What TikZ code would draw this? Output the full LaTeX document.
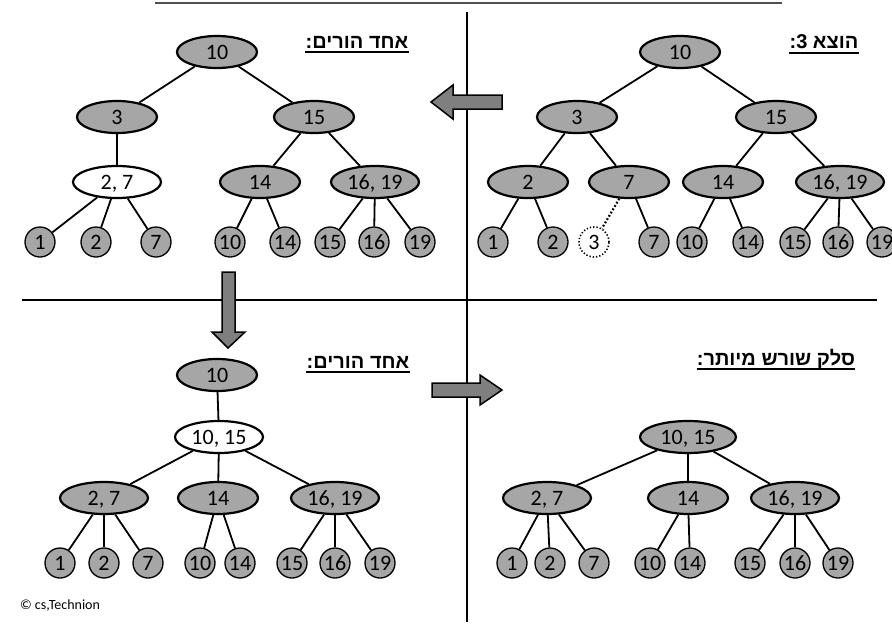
\documentclass[tikz,border=0pt]{standalone}
\usepackage{fontspec}
\setmainfont{Carlito}
\newfontfamily\hebfont[Script=Hebrew]{Liberation Sans Bold}
\TeXXeTstate=1
\usetikzlibrary{shapes.geometric}
\definecolor{nodegray}{HTML}{A6A6A6}
\definecolor{arrowgray}{HTML}{7F7F7F}
\definecolor{topline}{HTML}{505050}
\tikzset{
  el/.style={ellipse, draw, line width=2.2pt, fill=nodegray, minimum width=80pt, minimum height=32pt, inner sep=0pt, text height=14pt, text depth=0pt, font=\fontsize{22}{24}\selectfont},
  elw/.style={el, minimum width=88pt},
  elwhite/.style={elw, fill=white},
  leaf/.style={circle, draw, line width=1.3pt, fill=nodegray, minimum size=30pt, inner sep=0pt, text height=14pt, text depth=0pt, font=\fontsize{22}{24}\selectfont},
  dleaf/.style={leaf, fill=white, dotted, line width=1.6pt},
  edge/.style={line width=1.8pt},
  title/.style={inner sep=0pt, font=\hebfont\fontsize{20}{22}\selectfont},
  uline/.style={line width=2.2pt},
  bigarrow/.style={draw, line width=1.5pt, fill=arrowgray, line join=miter},
  sep/.style={line width=2.6pt}
}
\begin{document}
\begin{tikzpicture}[x=1pt,y=-1pt]
\useasboundingbox (0,0) rectangle (892,625);
% separators
\draw[topline, line width=2pt] (155,3) -- (782,3);
\draw[sep] (467,12) -- (467,622);
\draw[sep] (22,300) -- (877,300);

% ---------- top right ----------
\node[el] (a0) at (680,52) {10};
\node[el] (a1) at (577,117) {3};
\node[el] (a2) at (776,117) {15};
\node[el] (a3) at (528,182) {2};
\node[el] (a4) at (629,182) {7};
\node[el] (a5) at (723,182) {14};
\node[elw] (a6) at (840,182) {16, 19};
\node[leaf] (al1) at (493,242) {1};
\node[leaf] (al2) at (553,242) {2};
\node[dleaf] (al3) at (594,242) {3};
\node[leaf] (al4) at (654,242) {7};
\node[leaf] (al5) at (692,242) {10};
\node[leaf] (al6) at (748,242) {14};
\node[leaf] (al7) at (795,242) {15};
\node[leaf] (al8) at (838,242) {16};
\node[leaf] (al9) at (882,242) {19};
\draw[edge] (a0) -- (a1); \draw[edge] (a0) -- (a2);
\draw[edge] (a1) -- (a3); \draw[edge] (a1) -- (a4);
\draw[edge] (a2) -- (a5); \draw[edge] (a2) -- (a6);
\draw[edge] (a3) -- (al1); \draw[edge] (a3) -- (al2);
\draw[edge, dotted, line width=2.2pt] (a4) -- (al3); \draw[edge] (a4) -- (al4);
\draw[edge] (a5) -- (al5); \draw[edge] (a5) -- (al6);
\draw[edge] (a6) -- (al7); \draw[edge] (a6) -- (al8); \draw[edge] (a6) -- (al9);
\node[title] (ta) at (824,42) {\beginR הוצא 3:\endR};
\draw[uline] ([yshift=-4pt]ta.base west) -- ([yshift=-4pt]ta.base east);

% ---------- top left ----------
\node[el] (b0) at (217,52) {10};
\node[el] (b1) at (117,117) {3};
\node[el] (b2) at (314,117) {15};
\node[elwhite] (b3) at (117,182) {2, 7};
\node[el] (b4) at (260,182) {14};
\node[elw] (b5) at (375,182) {16, 19};
\node[leaf] (bl1) at (40,242) {1};
\node[leaf] (bl2) at (96,242) {2};
\node[leaf] (bl3) at (156,242) {7};
\node[leaf] (bl4) at (230,242) {10};
\node[leaf] (bl5) at (285,242) {14};
\node[leaf] (bl6) at (330,242) {15};
\node[leaf] (bl7) at (374,242) {16};
\node[leaf] (bl8) at (420,242) {19};
\draw[edge] (b0) -- (b1); \draw[edge] (b0) -- (b2);
\draw[edge] (b1) -- (b3);
\draw[edge] (b2) -- (b4); \draw[edge] (b2) -- (b5);
\draw[edge] (b3) -- (bl1); \draw[edge] (b3) -- (bl2); \draw[edge] (b3) -- (bl3);
\draw[edge] (b4) -- (bl4); \draw[edge] (b4) -- (bl5);
\draw[edge] (b5) -- (bl6); \draw[edge] (b5) -- (bl7); \draw[edge] (b5) -- (bl8);
\node[title] (tb) at (357,42) {\beginR אחד הורים:\endR};
\draw[uline] ([yshift=-4pt]tb.base west) -- ([yshift=-4pt]tb.base east);

% ---------- bottom left ----------
\node[el] (c0) at (217,375) {10};
\node[elwhite] (c1) at (219,437) {10, 15};
\node[elw] (c2) at (104,498) {2, 7};
\node[el] (c3) at (218,498) {14};
\node[elw] (c4) at (335,498) {16, 19};
\node[leaf] (cl1) at (60,563) {1};
\node[leaf] (cl2) at (104,563) {2};
\node[leaf] (cl3) at (148,563) {7};
\node[leaf] (cl4) at (200,563) {10};
\node[leaf] (cl5) at (240,563) {14};
\node[leaf] (cl6) at (292,563) {15};
\node[leaf] (cl7) at (335,563) {16};
\node[leaf] (cl8) at (380,563) {19};
\draw[edge] (c0) -- (c1);
\draw[edge] (c1) -- (c2); \draw[edge] (c1) -- (c3); \draw[edge] (c1) -- (c4);
\draw[edge] (c2) -- (cl1); \draw[edge] (c2) -- (cl2); \draw[edge] (c2) -- (cl3);
\draw[edge] (c3) -- (cl4); \draw[edge] (c3) -- (cl5);
\draw[edge] (c4) -- (cl6); \draw[edge] (c4) -- (cl7); \draw[edge] (c4) -- (cl8);
\node[title] (tc) at (358,362) {\beginR אחד הורים:\endR};
\draw[uline] ([yshift=-4pt]tc.base west) -- ([yshift=-4pt]tc.base east);

% ---------- bottom right ----------
\node[elw, minimum width=96pt] (d1) at (688,437) {10, 15};
\node[elw] (d2) at (547,498) {2, 7};
\node[el] (d3) at (688,498) {14};
\node[elw] (d4) at (795,498) {16, 19};
\node[leaf] (dl1) at (512,563) {1};
\node[leaf] (dl2) at (550,563) {2};
\node[leaf] (dl3) at (594,563) {7};
\node[leaf] (dl4) at (650,563) {10};
\node[leaf] (dl5) at (690,563) {14};
\node[leaf] (dl6) at (750,563) {15};
\node[leaf] (dl7) at (795,563) {16};
\node[leaf] (dl8) at (838,563) {19};
\draw[edge] (d1) -- (d2); \draw[edge] (d1) -- (d3); \draw[edge] (d1) -- (d4);
\draw[edge] (d2) -- (dl1); \draw[edge] (d2) -- (dl2); \draw[edge] (d2) -- (dl3);
\draw[edge] (d3) -- (dl4); \draw[edge] (d3) -- (dl5);
\draw[edge] (d4) -- (dl6); \draw[edge] (d4) -- (dl7); \draw[edge] (d4) -- (dl8);
\node[title] (td) at (776,359) {\beginR סלק שורש מיותר:\endR};
\draw[uline] ([yshift=-4pt]td.base west) -- ([yshift=-4pt]td.base east);

% ---------- big arrows ----------
\draw[bigarrow] (502,95) -- (453,95) -- (453,85) -- (431,102) -- (453,119) -- (453,109) -- (502,109) -- cycle;
\draw[bigarrow] (222,272) -- (235,272) -- (235,332) -- (245,332) -- (228,348) -- (212,332) -- (222,332) -- cycle;
\draw[bigarrow] (432,383) -- (480,383) -- (480,375) -- (502,390) -- (480,405) -- (480,397) -- (432,397) -- cycle;

\node[inner sep=0pt, font=\fontsize{14}{16}\selectfont] (copy) at (60,606) {© cs,Technion};
\end{tikzpicture}
\end{document}
